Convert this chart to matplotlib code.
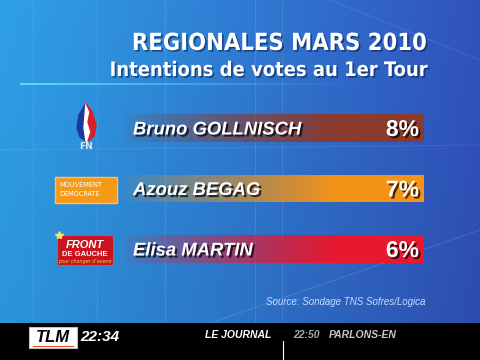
import numpy as np
import matplotlib
matplotlib.use("Agg")
import matplotlib.pyplot as plt
import matplotlib.patheffects as pe
from matplotlib import colors as mcolors
from matplotlib.patches import Rectangle, Polygon

# données
title = "REGIONALES MARS 2010"
subtitle = "Intentions de votes au 1er Tour"
candidates = ["Bruno GOLLNISCH", "Azouz BEGAG", "Elisa MARTIN"]
values = [8, 7, 6]
bar_colors = ["#8b3a2e", "#f39418", "#e8182e"]
source = "Source: Sondage TNS Sofres/Logica"

W, H = 480, 360
fig = plt.figure(figsize=(4.8, 3.6), dpi=100)
ax = fig.add_axes([0, 0, 1, 1])
ax.set_xlim(0, W)
ax.set_ylim(H, 0)
ax.axis("off")

# fond dégradé bleu
left_c = np.array(mcolors.to_rgb("#2fa0e8"))
right_c = np.array(mcolors.to_rgb("#3152bd"))
t = np.linspace(0, 1, W) ** 1.1
v = np.linspace(0, 1, H)[:, None, None]
bg = left_c * (1 - t[None, :, None]) + right_c * t[None, :, None]
bg = bg * (1 - 0.08 * v)
ax.imshow(np.clip(bg, 0, 1), extent=(0, W, H, 0), aspect="auto", zorder=0)

# lignes de décor
for x in [33, 97, 165, 255, 282]:
    ax.plot([x, x], [0, 323], color="white", alpha=0.10, lw=0.8, zorder=1)
ax.plot([0, 480], [150, 145], color="white", alpha=0.08, lw=0.8, zorder=1)
ax.plot([210, 480], [323, 230], color="white", alpha=0.12, lw=0.8, zorder=1)
ax.plot([330, 480], [0, 60], color="white", alpha=0.10, lw=0.8, zorder=1)

# titre
title_fx = [pe.withSimplePatchShadow(offset=(1.2, -1.2), shadow_rgbFace="#0a2050", alpha=0.6)]
ax.text(427, 50, title, ha="right", va="baseline", color="white", fontsize=17,
        fontweight="bold", family="DejaVu Sans", fontstretch="condensed",
        path_effects=title_fx, zorder=5)
ax.text(427, 76, subtitle, ha="right", va="baseline", color="white", fontsize=14.4,
        fontweight="bold", family="DejaVu Sans", fontstretch="condensed",
        path_effects=title_fx, zorder=5)

# ligne cyan sous le titre
xs = np.linspace(20, 360, 120)
for i in range(len(xs) - 1):
    a = 0.95 * (1 - i / len(xs)) ** 1.3
    ax.plot(xs[i:i + 2], [83.5, 83.5], color="#55e6f5", alpha=a, lw=1.4,
            solid_capstyle="butt", zorder=4)

# barres
bar_left, bar_len, bar_h = 126, 298, 28
for i, (name, val, col) in enumerate(zip(candidates, values, bar_colors)):
    yc = 128 + 60.5 * i
    patch = ax.barh(yc, bar_len, left=bar_left, height=bar_h, color="none",
                    edgecolor="none", zorder=3)[0]
    grad = np.zeros((2, 300, 4))
    grad[..., :3] = mcolors.to_rgb(col)
    ramp = np.clip(np.linspace(0.05, 1.4, 300), 0, 1) ** 0.9
    grad[..., 3] = ramp
    im = ax.imshow(grad, extent=(bar_left, bar_left + bar_len, yc + bar_h / 2, yc - bar_h / 2),
                   aspect="auto", zorder=3, interpolation="bilinear")
    im.set_clip_path(patch)
    fx = [pe.withSimplePatchShadow(offset=(1.5, -1.5), shadow_rgbFace="black", alpha=0.7)]
    ax.text(133, yc + 6.5, name, ha="left", va="baseline", color="white",
            fontsize=13.3, fontweight="bold", fontstyle="italic", family="Liberation Sans",
            path_effects=fx, zorder=6)
    ax.text(419, yc + 8, f"{val}%", ha="right", va="baseline", color="white",
            fontsize=16.5, fontweight="bold", family="Liberation Sans",
            path_effects=fx, zorder=6)

# logo FN
flame_l = [(86, 103), (79, 115), (77, 128), (80, 137), (86, 141), (86, 103)]
flame_m = [(86, 103), (90, 112), (88, 122), (91, 132), (88, 141), (86, 141), (84, 128), (86, 103)]
flame_r = [(86, 103), (92, 112), (96, 125), (94, 136), (88, 141), (91, 132), (88, 122), (90, 112)]
ax.add_patch(Polygon(flame_l, closed=True, color="#1a3a9a", zorder=5))
ax.add_patch(Polygon(flame_m, closed=True, color="white", zorder=5))
ax.add_patch(Polygon(flame_r, closed=True, color="#d8202a", zorder=5))
ax.text(86, 149, "FN", ha="center", va="baseline", color="#dde6f5", fontsize=6.5,
        fontweight="bold", zorder=5)

# logo MoDem
ax.add_patch(Rectangle((55, 177), 62, 26, facecolor="#f39a18", edgecolor="#ffc060",
                       lw=1.0, zorder=5))
ax.text(59, 185, "MOUVEMENT", ha="left", va="center", color="white", fontsize=5.2,
        family="DejaVu Sans", fontstretch="condensed", zorder=6)
ax.text(59, 194, "DEMOCRATE", ha="left", va="center", color="white", fontsize=5.2,
        family="DejaVu Sans", fontstretch="condensed", zorder=6)

# logo Front de Gauche
ax.add_patch(Rectangle((57, 235), 56, 30, facecolor="#c8141e", edgecolor="#e05050",
                       lw=0.8, zorder=5))
ax.text(85, 245, "FRONT", ha="center", va="center", color="white", fontsize=8,
        fontweight="bold", family="Liberation Sans", fontstyle="italic", zorder=6)
ax.text(85, 254, "DE GAUCHE", ha="center", va="center", color="white", fontsize=5.5,
        fontweight="bold", family="Liberation Sans", zorder=6)
ax.text(85, 261, "pour changer d'avenir", ha="center", va="center", color="#ffd040",
        fontsize=3.5, fontstyle="italic", zorder=6)
ax.plot(59, 235, marker="*", color="#ffe060", ms=6, zorder=7)

# source
ax.text(425, 305, source, ha="right", va="baseline", color="#c8dcff", fontsize=7,
        fontstyle="italic", family="Liberation Sans", zorder=5)

# bandeau noir
ax.add_patch(Rectangle((0, 323), W, H - 323, facecolor="black", edgecolor="none", zorder=8))
ax.add_patch(Rectangle((29, 327), 48, 21, facecolor="white", edgecolor="#c0c0c0",
                       lw=0.8, zorder=9))
ax.text(53, 342, "TLM", ha="center", va="baseline", color="black", fontsize=12,
        fontweight="bold", fontstyle="italic", family="Liberation Sans", zorder=10)
ax.plot([33, 73], [345.5, 345.5], color="#e05020", lw=0.8, zorder=10)
ax.text(80, 341, "22:34", ha="left", va="baseline", color="white", fontsize=11,
        fontweight="bold", fontstyle="italic", family="Liberation Sans", zorder=10)
ax.text(205, 338, "LE JOURNAL", ha="left", va="baseline", color="white", fontsize=7.5,
        fontweight="bold", fontstyle="italic", family="Liberation Sans", zorder=10)
ax.text(293, 338, "22:50", ha="left", va="baseline", color="#a8a8a8", fontsize=7.5,
        fontweight="bold", fontstyle="italic", family="Liberation Sans", zorder=10)
ax.text(329, 338, "PARLONS-EN", ha="left", va="baseline", color="#c8c8c8", fontsize=7.5,
        fontweight="bold", fontstyle="italic", family="Liberation Sans", zorder=10)
ax.plot([283, 283], [341, 360], color="white", lw=0.8, zorder=10)

fig.savefig("out.png", dpi=100)
